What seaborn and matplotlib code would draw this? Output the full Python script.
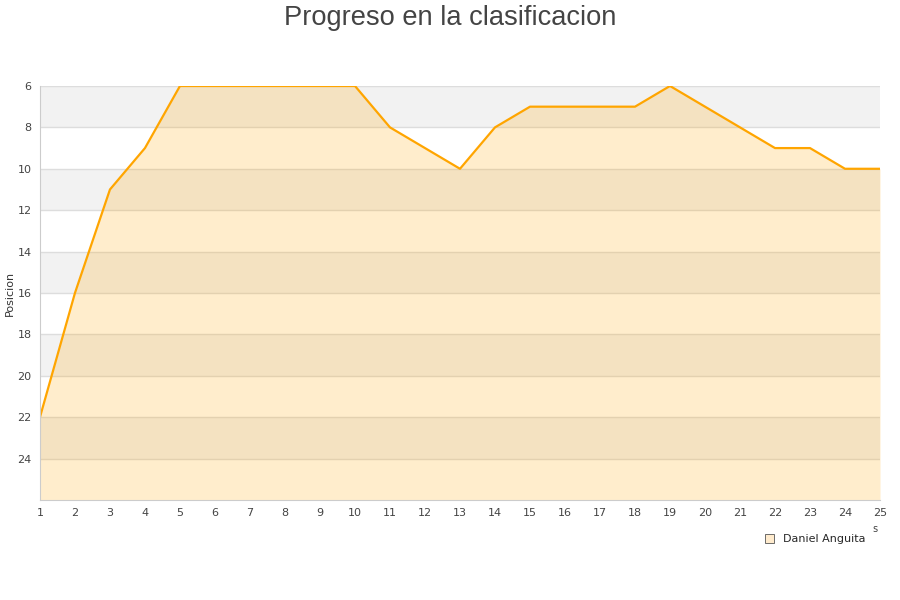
import matplotlib
matplotlib.use('Agg')
import matplotlib.pyplot as plt
import seaborn as sns
import pandas as pd
from matplotlib.patches import Patch

# data
jornadas = list(range(1, 26))
posiciones = [22, 16, 11, 9, 6, 6, 6, 6, 6, 6, 8, 9, 10, 8, 7, 7, 7, 7, 6, 7, 8, 9, 9, 10, 10]
jugador = 'Daniel Anguita'
y_ticks = [6, 8, 10, 12, 14, 16, 18, 20, 22, 24]

df = pd.DataFrame({'Jornada': jornadas, 'Posicion': posiciones})

sns.set_style('white')
plt.rcParams['font.family'] = ['DejaVu Sans']

fig = plt.figure(figsize=(9, 6), dpi=100)
ax = fig.add_axes([0.0444, 0.1667, 0.9334, 0.69])

# alternating bands
for i, lo in enumerate(range(6, 26, 2)):
    if i % 2 == 0:
        ax.axhspan(lo, lo + 2, color='#f2f2f2', zorder=0, lw=0)
for t in y_ticks:
    ax.axhline(t, color='#dddddd', lw=1, zorder=0.5)

ax.fill_between(df['Jornada'], df['Posicion'], 26, color='#ffa500', alpha=0.2, lw=0, zorder=1)
sns.lineplot(data=df, x='Jornada', y='Posicion', color='#ffa500', lw=1.6, ax=ax, zorder=2)

ax.set_xlim(1, 25)
ax.set_ylim(26, 6)
ax.set_xticks(jornadas)
ax.set_yticks(y_ticks)
ax.tick_params(axis='both', labelsize=8, colors='#444444', length=0, pad=6)
ax.set_xlabel('')
ax.set_ylabel('Posicion', fontsize=8, color='#333333', labelpad=2)
for s in ['top', 'right']:
    ax.spines[s].set_visible(False)
for s in ['left', 'bottom']:
    ax.spines[s].set_color('#cccccc')

fig.suptitle('Progreso en la clasificacion', fontsize=19.6, color='#444444', y=0.992,
             family=['Liberation Sans'])
fig.text(0.972, 0.113, 's', fontsize=7, color='#444444', ha='center')

handle = Patch(facecolor='#ffebcd', edgecolor='#555555', lw=0.6)
fig.legend([handle], [jugador], loc='center', bbox_to_anchor=(0.906, 0.101), frameon=False,
           fontsize=8, handlelength=0.8, handleheight=0.8)

fig.savefig('out.png', dpi=100)
